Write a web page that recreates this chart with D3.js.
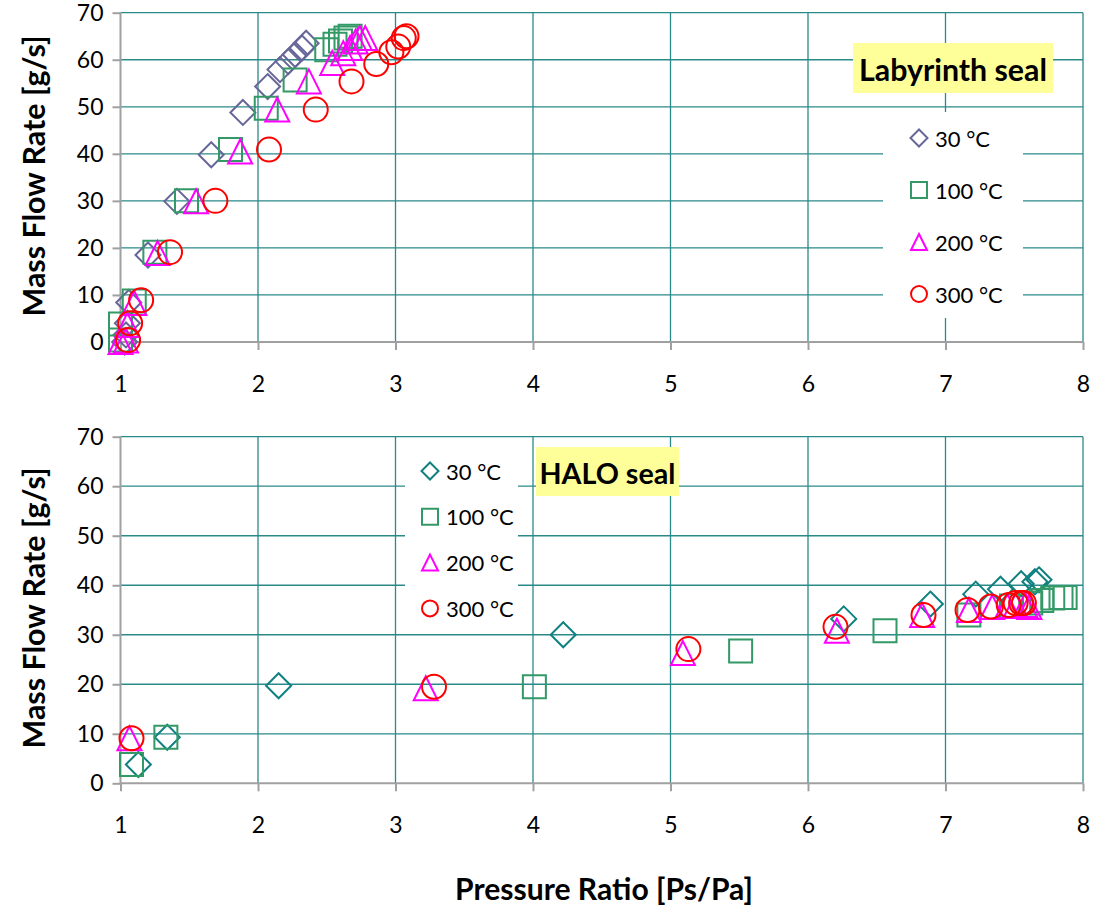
<!DOCTYPE html>
<html><head><meta charset="utf-8">
<script src="https://cdn.jsdelivr.net/npm/d3@7"></script>
<style>
body{margin:0;background:#fff}
svg{display:block}
text{font-family:Lato,"Open Sans",sans-serif;fill:#000}
</style></head>
<body><svg id="c" width="1094" height="907"></svg>
<script>
// ---------- data ----------
const xTicks = [1, 2, 3, 4, 5, 6, 7, 8];
const yTicks = [0, 10, 20, 30, 40, 50, 60, 70];
const seriesNames = ["30 °C", "100 °C", "200 °C", "300 °C"];

// Labyrinth seal (top)
const lab30x  = [1.03, 1.04, 1.05, 1.06, 1.20, 1.41, 1.66, 1.89, 2.07, 2.16, 2.22, 2.27, 2.32, 2.35];
const lab30y  = [0.0, 1.5, 4.0, 8.4, 18.5, 29.9, 39.8, 48.8, 54.3, 57.9, 59.6, 61.1, 62.5, 63.5];
const lab100x = [1.00, 1.00, 1.10, 1.25, 1.48, 1.80, 2.06, 2.27, 2.50, 2.56, 2.60, 2.64, 2.67];
const lab100y = [0.4, 3.8, 8.7, 19.1, 30.0, 40.9, 49.7, 55.7, 62.1, 63.3, 64.0, 64.6, 65.0];
const lab200x = [1.00, 1.04, 1.05, 1.10, 1.27, 1.55, 1.87, 2.14, 2.37, 2.54, 2.62, 2.67, 2.71, 2.74, 2.78];
const lab200y = [0.0, 0.3, 3.6, 8.3, 18.9, 29.9, 40.5, 49.4, 55.4, 59.3, 61.4, 62.5, 63.9, 64.6, 64.6];
const lab300x = [1.055, 1.07, 1.15, 1.36, 1.69, 2.08, 2.42, 2.68, 2.86, 2.97, 3.02, 3.06, 3.08];
const lab300y = [0.4, 4.0, 8.9, 19.1, 30.0, 40.9, 49.4, 55.4, 59.1, 61.6, 62.8, 64.6, 65.0];

// HALO seal (bottom)
const halo30x  = [1.13, 1.34, 2.15, 4.22, 6.26, 6.89, 7.22, 7.40, 7.55, 7.65, 7.68];
const halo30y  = [3.8, 9.3, 19.7, 30.0, 33.2, 36.2, 38.2, 39.2, 40.3, 40.7, 41.1];
const halo100x = [1.08, 1.33, 4.01, 5.51, 6.56, 7.17, 7.48, 7.62, 7.70, 7.78, 7.84, 7.87];
const halo100y = [3.8, 9.3, 19.5, 26.7, 30.8, 34.0, 35.8, 36.4, 36.9, 37.4, 37.5, 37.5];
const halo200x = [1.065, 3.22, 5.09, 6.21, 6.83, 7.17, 7.34, 7.45, 7.51, 7.58, 7.61];
const halo200y = [9.1, 19.2, 26.3, 30.8, 34.0, 35.0, 35.6, 35.8, 35.9, 36.0, 35.6];
const halo300x = [1.08, 3.28, 5.13, 6.20, 6.84, 7.16, 7.33, 7.46, 7.51, 7.55, 7.57];
const halo300y = [9.1, 19.5, 27.1, 31.6, 34.0, 35.0, 35.7, 36.0, 36.4, 36.4, 36.4];

// ---------- drawing ----------
const svg = d3.select("#c");
const GRID = "#2a8a8a", AXIS = "#a0a0a0";
const x = d3.scaleLinear().domain([1, 8]).range([120.5, 1083]);

const shapes = {
  diamond: s => `M0,${-s/2}L${s/2},0L0,${s/2}L${-s/2},0Z`,
  square:  s => { const h = s/2; return `M${-h},${-h}H${h}V${h}H${-h}Z`; },
  triangle:s => `M0,${-s/2}L${s/2},${s/2}L${-s/2},${s/2}Z`,
  circle:  s => { const r = s/2; return `M${r},0A${r},${r} 0 1,1 ${-r},0A${r},${r} 0 1,1 ${r},0Z`; }
};
const markerSize = {diamond: 25, square: 23, triangle: 24, circle: 24};

function fitText(sel, target) {
  const n = sel.node();
  const fs = parseFloat(sel.attr("font-size"));
  const w = n.getComputedTextLength();
  if (w > 0) sel.attr("font-size", fs * target / w);
}

function panel(cfg) {
  const y = d3.scaleLinear().domain([0, 70]).range([cfg.y0, cfg.y1]);
  const g = svg.append("g");
  // horizontal gridlines
  g.append("g").selectAll("line").data(yTicks.filter(v => v > 0)).join("line")
    .attr("x1", x(1)).attr("x2", x(8)).attr("y1", d => y(d)).attr("y2", d => y(d))
    .attr("stroke", GRID).attr("stroke-width", 1.3);
  // vertical gridlines
  g.append("g").selectAll("line").data(xTicks.filter(v => v > 1)).join("line")
    .attr("x1", d => x(d)).attr("x2", d => x(d)).attr("y1", y(0)).attr("y2", y(70))
    .attr("stroke", GRID).attr("stroke-width", 1.3);

  // legend background box (covers gridlines)
  g.append("rect").attr("x", cfg.legBox[0]).attr("y", cfg.legBox[1])
    .attr("width", cfg.legBox[2]).attr("height", cfg.legBox[3]).attr("fill", "#fff");

  // axes
  const ax = d3.axisBottom(x).tickValues(xTicks).tickSize(8).tickPadding(26).tickFormat(d3.format("d"));
  const ay = d3.axisLeft(y).tickValues(yTicks).tickSize(8).tickPadding(9).tickFormat(d3.format("d"));
  const gx = g.append("g").attr("transform", `translate(0,${y(0)})`).call(ax);
  const gy = g.append("g").attr("transform", `translate(${x(1)},0)`).call(ay);
  [gx, gy].forEach(a => {
    a.select(".domain").attr("stroke", AXIS).attr("stroke-width", 2);
    a.selectAll(".tick line").attr("stroke", AXIS).attr("stroke-width", 2);
    a.selectAll(".tick text").attr("font-size", 23).attr("font-family", "Lato").attr("fill", "#000");
  });
  gy.select(".domain").attr("d", `M-0,${y(70)}V${y(0)}`);
  gx.select(".domain").attr("d", `M${x(1)},0H${x(8)}`);
  gx.selectAll(".tick text").attr("dy", "0.35em").attr("y", 42);

  // y-axis title
  const yt = g.append("text").attr("transform", `translate(33,${cfg.titleY}) rotate(-90)`)
    .attr("text-anchor", "middle").attr("dominant-baseline", "central")
    .attr("font-weight", "bold").attr("font-size", 28).text("Mass Flow Rate [g/s]");
  fitText(yt, 281);

  // series
  cfg.series.forEach(s => {
    const pts = s.xs.map((v, i) => ({x: v, y: s.ys[i]}));
    g.append("g").selectAll("path").data(pts).join("path")
      .attr("transform", d => `translate(${x(d.x)},${y(d.y)})`)
      .attr("d", shapes[s.shape](markerSize[s.shape]))
      .attr("fill", "none").attr("stroke", s.color).attr("stroke-width", 2);
  });

  // legend entries
  cfg.series.forEach((s, i) => {
    const cy = cfg.legY0 + i * cfg.legStep;
    g.append("path").attr("transform", `translate(${cfg.legX},${cy})`)
      .attr("d", shapes[s.shape](s.shape === "diamond" ? 17 : (s.shape === "square" ? 16 : 16)))
      .attr("fill", "none").attr("stroke", s.color).attr("stroke-width", 2);
    g.append("text").attr("x", cfg.legX + 16).attr("y", cy).attr("dominant-baseline", "central")
      .attr("font-size", 22).text(seriesNames[i]);
  });

  // title box
  const tb = cfg.tbox;
  g.append("rect").attr("x", tb[0]).attr("y", tb[1]).attr("width", tb[2]).attr("height", tb[3]).attr("fill", "#ffff99");
  const tt = g.append("text").attr("x", tb[0] + tb[2] / 2).attr("y", tb[1] + tb[3] / 2 + 1)
    .attr("text-anchor", "middle").attr("dominant-baseline", "central")
    .attr("font-weight", "bold").attr("font-size", 28).text(cfg.title);
  fitText(tt, cfg.titleW);
}

panel({
  y0: 342, y1: 12.7, titleY: 176,
  legBox: [883, 112, 140, 206], legX: 919, legY0: 138, legStep: 52,
  tbox: [853, 43, 200, 50], title: "Labyrinth seal", titleW: 188,
  series: [
    {xs: lab30x,  ys: lab30y,  shape: "diamond",  color: "#666699"},
    {xs: lab100x, ys: lab100y, shape: "square",   color: "#339966"},
    {xs: lab200x, ys: lab200y, shape: "triangle", color: "#ff00ff"},
    {xs: lab300x, ys: lab300y, shape: "circle",   color: "#ff0000"}
  ]
});

panel({
  y0: 783.3, y1: 436.7, titleY: 608,
  legBox: [405, 449, 113, 176], legX: 430, legY0: 471, legStep: 45.8,
  tbox: [536, 447, 143, 49], title: "HALO seal", titleW: 136,
  series: [
    {xs: halo30x,  ys: halo30y,  shape: "diamond",  color: "#108080"},
    {xs: halo100x, ys: halo100y, shape: "square",   color: "#339966"},
    {xs: halo200x, ys: halo200y, shape: "triangle", color: "#ff00ff"},
    {xs: halo300x, ys: halo300y, shape: "circle",   color: "#ff0000"}
  ]
});

// x-axis title
const xt = svg.append("text").attr("x", 604).attr("y", 888)
  .attr("text-anchor", "middle").attr("dominant-baseline", "central")
  .attr("font-weight", "bold").attr("font-size", 28).text("Pressure Ratio [Ps/Pa]");
fitText(xt, 298);
</script></body></html>
